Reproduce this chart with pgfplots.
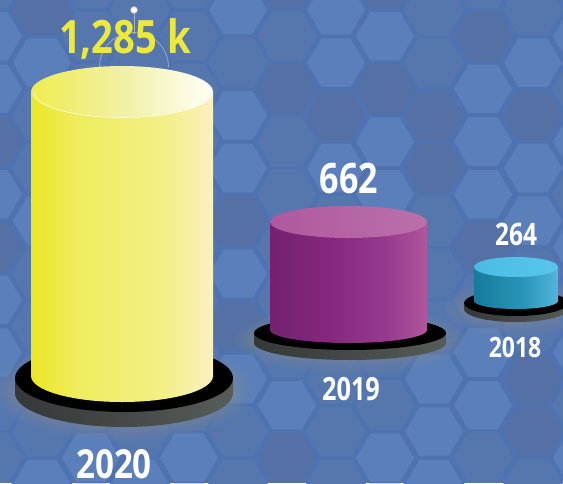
\documentclass[border=0pt]{standalone}
\usepackage{fontspec}
\setmainfont{Open Sans}
\usepackage{pgfplots}
\pgfplotsset{compat=1.18}
\definecolor{hexbg}{HTML}{4E73B2}
\definecolor{lab}{HTML}{EDE93A}
\definecolor{cL}{HTML}{5A7FBA}
\definecolor{cLb}{HTML}{5172AE}
\definecolor{cM}{HTML}{5676AE}
\definecolor{cD}{HTML}{5470A5}
\definecolor{leader}{HTML}{A8AEC6}
\definecolor{y0}{HTML}{ECE726}
\definecolor{y1}{HTML}{F0EC5F}
\definecolor{y2}{HTML}{F3F087}
\definecolor{y3}{HTML}{FBF0C0}
\definecolor{yt0}{HTML}{F0EC50}
\definecolor{yt1}{HTML}{F1F0A5}
\definecolor{yt2}{HTML}{FFFFF8}
\definecolor{yr}{HTML}{FAFAD7}
\definecolor{p0}{HTML}{742170}
\definecolor{p1}{HTML}{86287E}
\definecolor{p2}{HTML}{963A90}
\definecolor{p3}{HTML}{B0569B}
\definecolor{pt0}{HTML}{B0589E}
\definecolor{pt1}{HTML}{BA70AA}
\definecolor{b0}{HTML}{167A9C}
\definecolor{b1}{HTML}{2A96BA}
\definecolor{b2}{HTML}{54B4DC}
\definecolor{bt0}{HTML}{4CBCE4}
\definecolor{bt1}{HTML}{56C6EC}
\definecolor{d0}{HTML}{343838}
\definecolor{d1}{HTML}{565C58}
\tikzset{
 hexL/.style={fill=cL,draw=cLb,line width=1.3pt},
 hexM/.style={fill=cM},
 hexD/.style={fill=cD},
}
\pgfdeclarehorizontalshading{ybody}{100bp}{color(0bp)=(y0);color(25bp)=(y0);color(38bp)=(y1);color(62bp)=(y2);color(75bp)=(y3);color(100bp)=(y3)}
\pgfdeclarehorizontalshading{ytop}{100bp}{color(0bp)=(yt0);color(25bp)=(yt0);color(50bp)=(yt1);color(75bp)=(yt2);color(100bp)=(yt2)}
\pgfdeclarehorizontalshading{pbody}{100bp}{color(0bp)=(p0);color(25bp)=(p0);color(45bp)=(p1);color(62bp)=(p2);color(75bp)=(p3);color(100bp)=(p3)}
\pgfdeclarehorizontalshading{ptop}{100bp}{color(0bp)=(pt0);color(25bp)=(pt0);color(75bp)=(pt1);color(100bp)=(pt1)}
\pgfdeclarehorizontalshading{bbody}{100bp}{color(0bp)=(b0);color(25bp)=(b0);color(55bp)=(b1);color(75bp)=(b2);color(100bp)=(b2)}
\pgfdeclarehorizontalshading{btop}{100bp}{color(0bp)=(bt0);color(25bp)=(bt0);color(75bp)=(bt1);color(100bp)=(bt1)}
\pgfdeclarehorizontalshading{dside}{100bp}{color(0bp)=(d0);color(25bp)=(d0);color(75bp)=(d1);color(100bp)=(d1)}
% x y(from top) style
\newcommand\hexa[3]{\path[hex#3] (#1pt-30pt,483pt-#2pt) -- (#1pt-15pt,483pt-#2pt+25pt) -- (#1pt+15pt,483pt-#2pt+25pt) -- (#1pt+30pt,483pt-#2pt) -- (#1pt+15pt,483pt-#2pt-25pt) -- (#1pt-15pt,483pt-#2pt-25pt) -- cycle;}
\newcommand\col[3]{\foreach \s [count=\j from 0] in {#3} {\pgfmathsetmacro\yy{#2+52.7*\j}\hexa{#1}{\yy}{\s}}}
% halo, disk
\newcommand\halo[4]{\pgfplotsinvokeforeach{2,5,8,11,14,17,20}{\fill[gray!85!yellow,opacity=.05] (axis cs:#1,#2) ellipse[x radius={#3pt+##1pt},y radius={#4pt+##1pt*.8}];}}
\newcommand\disk[5]{\path[shade,shading=dside] (axis cs:#1-#3,#2) -- (axis cs:#1-#3,#2+#5) arc[start angle=180,end angle=360,x radius=#3pt,y radius=#4pt] -- (axis cs:#1+#3,#2) -- cycle;
 \fill[black] (axis cs:#1,#2) ellipse[x radius=#3pt,y radius=#4pt];}
\newcommand\lbl[6]{\node[text=#6,font=\bfseries\fontsize{#4}{#4}\selectfont,inner sep=0pt,anchor=base] at (axis cs:#1,#2) {\scalebox{#5}[1]{#3}};}
\begin{document}
\begin{tikzpicture}[x=1pt,y=1pt]
\useasboundingbox (0,0) rectangle (563pt,483pt);
\fill[hexbg] (0,0) rectangle (563pt,483pt);
\col{-7}{-16.5}{M,L,L,D,L,D,L,L,M,M}
\col{42}{10}{D,L,M,M,L,M,M,M,M,L}
\col{91}{-16.5}{M,M,M,M,M,M,M,M,M,L}
\col{140}{10}{M,M,M,M,M,M,M,M,M,L}
\col{189}{-16.5}{M,M,M,M,M,M,M,M,M,L}
\col{238}{10}{L,M,L,L,D,L,D,L,M,M}
\col{287}{-16.5}{D,M,D,M,M,M,M,M,L,D}
\col{336}{10}{L,L,D,L,M,M,M,M,M,M}
\col{385}{-16.5}{D,L,D,L,L,M,M,M,M,L}
\col{434}{10}{M,M,D,D,M,M,M,L,L,L}
\col{483}{-16.5}{M,D,L,L,L,D,M,L,L,M}
\col{533}{10}{M,L,D,L,L,M,M,D,D,M}
\col{582}{-16.5}{M,L,M,L,M,L,M,L,M,L}
\begin{axis}[at={(0,0)},anchor=south west,scale only axis,width=563pt,height=483pt,
  xmin=0,xmax=563,ymin=0,ymax=483,y dir=reverse,hide axis,clip=true]
% ground shadows and disks
\halo{124}{390}{109}{36}
\halo{350}{340}{96}{18}
\halo{516}{308}{52}{13}
\disk{124}{378}{109}{34}{15}
\disk{350}{333}{96}{17}{10}
\disk{516}{303}{52}{13}{6}
% 2020
\fill[shade,shading=ybody] (axis cs:122,376) ellipse[x radius=91pt,y radius=26pt];
\addplot[shade,shading=ybody,draw=none] coordinates {(31,92) (31,376) (213,376) (213,92)} -- cycle;
\path[shade,shading=ytop] (axis cs:122,92) ellipse[x radius=91pt,y radius=26pt];
\draw[yr,line width=.6pt] (axis cs:122,92) ++(-88pt,0pt) arc[start angle=180,end angle=360,x radius=88pt,y radius=25.5pt];
% 2019
\fill[shade,shading=pbody] (axis cs:348.5,330) ellipse[x radius=78.5pt,y radius=13pt];
\addplot[shade,shading=pbody,draw=none] coordinates {(270,222) (270,330) (427,330) (427,222)} -- cycle;
\path[shade,shading=ptop] (axis cs:348.5,222) ellipse[x radius=78.5pt,y radius=16pt];
% 2018
\fill[shade,shading=bbody] (axis cs:516,301) ellipse[x radius=42pt,y radius=8pt];
\addplot[shade,shading=bbody,draw=none] coordinates {(474,267) (474,301) (558,301) (558,267)} -- cycle;
\path[shade,shading=btop] (axis cs:516,267) ellipse[x radius=42pt,y radius=10pt];
% leader
\draw[leader,line width=.7pt] (axis cs:99.5,67) arc[start angle=180,end angle=0,radius=34.5pt];
\draw[leader,line width=.7pt] (axis cs:134,10) -- (axis cs:134,34);
\fill[white,draw=leader,line width=.7pt] (axis cs:134,10) circle[radius=3.5pt];
% labels
\lbl{125}{53}{1,285 k}{46}{.83}{lab}
\lbl{349}{193}{662}{42}{.81}{white}
\lbl{516}{245}{264}{31}{.79}{white}
\lbl{351}{400}{2019}{32}{.79}{white}
\lbl{515}{357}{2018}{28}{.82}{white}
\lbl{114}{478}{2020}{40}{.83}{white}
\end{axis}
\end{tikzpicture}
\end{document}
